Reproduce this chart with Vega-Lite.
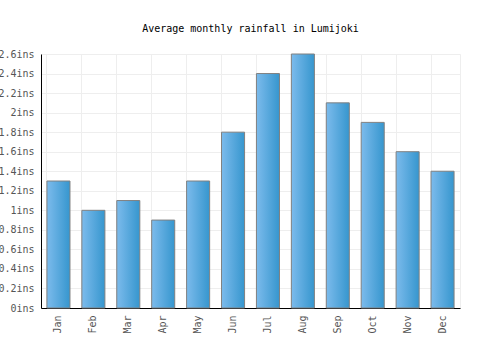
{
  "$schema": "https://vega.github.io/schema/vega-lite/v6.json",
  "autosize": "none",
  "width": 419,
  "height": 254,
  "padding": {"left": 41, "top": 54, "right": 40, "bottom": 42},
  "background": "white",
  "title": {
    "text": "Average monthly rainfall in Lumijoki",
    "font": "DejaVu Sans Mono",
    "fontSize": 10,
    "fontWeight": "normal",
    "color": "#000000",
    "anchor": "middle",
    "offset": 15
  },
  "data": {
    "values": [
      {"month": "Jan", "rain": 1.3},
      {"month": "Feb", "rain": 1.0},
      {"month": "Mar", "rain": 1.1},
      {"month": "Apr", "rain": 0.9},
      {"month": "May", "rain": 1.3},
      {"month": "Jun", "rain": 1.8},
      {"month": "Jul", "rain": 2.4},
      {"month": "Aug", "rain": 2.6},
      {"month": "Sep", "rain": 2.1},
      {"month": "Oct", "rain": 1.9},
      {"month": "Nov", "rain": 1.6},
      {"month": "Dec", "rain": 1.4}
    ]
  },
  "mark": {
    "type": "bar",
    "stroke": "#808080",
    "strokeWidth": 1,
    "color": {
      "gradient": "linear",
      "x1": 0, "y1": 0, "x2": 1, "y2": 0,
      "stops": [
        {"offset": 0, "color": "#7cbbec"},
        {"offset": 1, "color": "#3696ce"}
      ]
    }
  },
  "encoding": {
    "x": {
      "field": "month",
      "type": "nominal",
      "sort": null,
      "scale": {"paddingInner": 0.34, "paddingOuter": 0.17},
      "axis": {
        "title": null,
        "labelAngle": 270,
        "labelAlign": "right",
        "labelBaseline": "middle",
        "labelFont": "DejaVu Sans Mono",
        "labelFontSize": 10,
        "labelColor": "#555555",
        "labelPadding": 7,
        "ticks": false,
        "domainColor": "#000000",
        "domainWidth": 1,
        "grid": true,
        "gridColor": "#eeeeee",
        "bandPosition": 0
      }
    },
    "y": {
      "field": "rain",
      "type": "quantitative",
      "scale": {"domain": [0, 2.6], "nice": false},
      "axis": {
        "title": null,
        "values": [0, 0.2, 0.4, 0.6, 0.8, 1, 1.2, 1.4, 1.6, 1.8, 2, 2.2, 2.4, 2.6],
        "labelExpr": "datum.value + 'ins'",
        "labelFont": "DejaVu Sans Mono",
        "labelFontSize": 10,
        "labelColor": "#555555",
        "labelPadding": 7,
        "ticks": false,
        "domainColor": "#000000",
        "domainWidth": 1,
        "gridColor": "#eeeeee"
      }
    }
  },
  "config": {"view": {"stroke": "#eeeeee"}}
}
